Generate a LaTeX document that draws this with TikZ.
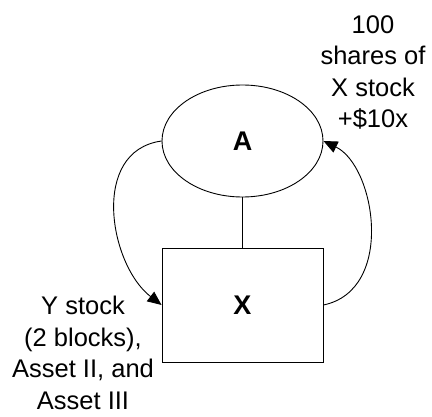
\documentclass[tikz,border=0pt]{standalone}
\usepackage{fontspec}
\setmainfont{Liberation Sans}
\usetikzlibrary{shapes.geometric, arrows.meta}

\begin{document}
\begin{tikzpicture}[
    x=1pt, y=-1pt,
    party/.style={
      ellipse, draw, line width=0.9pt, inner sep=0pt,
      minimum width=161pt, minimum height=112pt,
      font=\fontsize{27}{32}\selectfont\bfseries
    },
    firm/.style={
      rectangle, draw, line width=0.9pt, inner sep=0pt,
      minimum width=161pt, minimum height=114pt,
      font=\fontsize{27}{32}\selectfont\bfseries
    },
    note/.style={
      align=center, inner sep=0pt, anchor=north,
      font=\fontsize{25.5}{31.5}\selectfont
    },
    flow/.style={-{Triangle[length=14pt, width=12pt]}, line width=0.9pt}
  ]
    \useasboundingbox (0,0) rectangle (432,417);

    \node[party] (a) at (242.5,141) {A};
    \node[firm]  (x) at (242.5,305) {X};

    \node[note] (gain) at (373,15)  {100\\shares of\\X stock\\+\$10x};
    \node[note] (give) at (83,296)  {Y stock\\(2 blocks),\\Asset II, and\\Asset III};

    \draw[line width=0.9pt] (a.south) -- (x.north);
    \draw[flow] (a.west) .. controls +(-72,10) and +(-52,-40) .. (x.west);
    \draw[flow] (x.east) .. controls +(72,-15) and +(52,25) .. (a.east);
  \end{tikzpicture}
\end{document}
